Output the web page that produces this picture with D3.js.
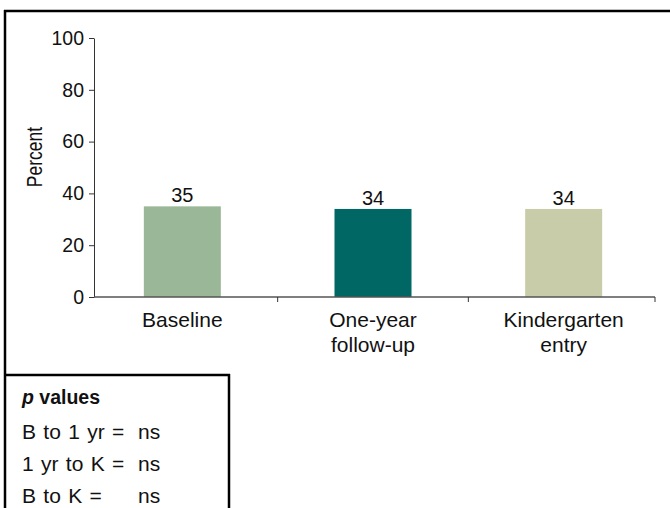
<!DOCTYPE html>
<html>
<head>
<meta charset="utf-8">
<script src="https://cdn.jsdelivr.net/npm/d3@7"></script>
<style>
  html, body { margin: 0; padding: 0; background: #fff; }
  svg { display: block; font-family: "Liberation Sans", Arial, sans-serif; }
</style>
</head>
<body>
<svg id="chart" width="670" height="508"></svg>
<script>
const categories = [["Baseline"], ["One-year", "follow-up"], ["Kindergarten", "entry"]];
const values = [35, 34, 34];
const barColors = ["#9ab797", "#006764", "#c9cca8"];
const yTicks = [0, 20, 40, 60, 80, 100];
const yLabel = "Percent";
const pTitle = ["p", " values"];
const pLabels = ["B to 1 yr =", "1 yr to K =", "B to K ="];
const pValues = ["ns", "ns", "ns"];

const svg = d3.select("#chart");
const W = 670, H = 508;

// outer frame (top and left)
svg.append("line").attr("x1", 4).attr("x2", W).attr("y1", 11).attr("y2", 11)
  .attr("stroke", "#000").attr("stroke-width", 2.5);
svg.append("line").attr("x1", 5).attr("x2", 5).attr("y1", 10).attr("y2", H)
  .attr("stroke", "#000").attr("stroke-width", 2.5);

const x = d3.scaleBand().domain(d3.range(categories.length)).range([87, 659]);
const y = d3.scaleLinear().domain([0, 100]).range([297, 38]);
const barW = 77;
const axisX0 = 94, axisX1 = 655;

// bars
svg.selectAll("rect.bar").data(values).enter().append("rect")
  .attr("class", "bar")
  .attr("x", (d, i) => x(i) + x.bandwidth() / 2 - barW / 2)
  .attr("width", barW)
  .attr("y", d => y(d))
  .attr("height", d => y(0) - y(d))
  .attr("fill", (d, i) => barColors[i]);

// value labels
svg.selectAll("text.val").data(values).enter().append("text")
  .attr("x", (d, i) => x(i) + x.bandwidth() / 2)
  .attr("y", d => y(d) - 4)
  .attr("text-anchor", "middle")
  .attr("font-size", 20)
  .attr("fill", "#111")
  .text(d => d);

// y axis
const yAxis = d3.axisLeft(y).tickValues(yTicks).tickSize(5).tickPadding(5).tickSizeOuter(0);
const gy = svg.append("g").attr("transform", `translate(${axisX0},0)`).call(yAxis);
gy.select(".domain").attr("stroke", "#333");
gy.selectAll(".tick line").attr("stroke", "#333");
gy.selectAll(".tick text").attr("font-size", 19.5).attr("fill", "#111")
  .attr("font-family", "Liberation Sans, Arial, sans-serif");

// x axis
svg.append("line").attr("x1", axisX0).attr("x2", axisX1).attr("y1", y(0)).attr("y2", y(0))
  .attr("stroke", "#555").attr("stroke-width", 1.5);
const edges = [x(1), x(2), axisX1];
svg.selectAll("line.xt").data(edges).enter().append("line")
  .attr("x1", d => d).attr("x2", d => d)
  .attr("y1", y(0)).attr("y2", y(0) + 5)
  .attr("stroke", "#333");

// category labels
const cl = svg.selectAll("text.cat").data(categories).enter().append("text")
  .attr("text-anchor", "middle")
  .attr("font-size", 21)
  .attr("fill", "#111");
cl.each(function(lines, i) {
  const t = d3.select(this);
  lines.forEach((s, j) => {
    t.append("tspan").attr("x", x(i) + x.bandwidth() / 2).attr("y", 327 + j * 25).text(s);
  });
});

// y label
svg.append("text")
  .attr("transform", "translate(42,157) rotate(-90) scale(1,1.25)")
  .attr("text-anchor", "middle")
  .attr("font-size", 17.5)
  .attr("fill", "#111")
  .text(yLabel);

// p values box
svg.append("line").attr("x1", 4).attr("x2", 230).attr("y1", 375).attr("y2", 375)
  .attr("stroke", "#000").attr("stroke-width", 2.5);
svg.append("line").attr("x1", 229).attr("x2", 229).attr("y1", 374).attr("y2", H)
  .attr("stroke", "#000").attr("stroke-width", 2.5);

const pt = svg.append("text").attr("x", 22).attr("y", 404)
  .attr("font-size", 19.5).attr("font-weight", "bold").attr("fill", "#111");
pt.append("tspan").attr("font-style", "italic").text(pTitle[0]);
pt.append("tspan").text(pTitle[1]);

const rowY = [439, 471, 503];
svg.selectAll("text.pl").data(pLabels).enter().append("text")
  .attr("x", 22).attr("y", (d, i) => rowY[i])
  .attr("font-size", 21).attr("word-spacing", 1.5).attr("fill", "#111")
  .text(d => d);
svg.selectAll("text.pv").data(pValues).enter().append("text")
  .attr("x", 138).attr("y", (d, i) => rowY[i])
  .attr("font-size", 21).attr("fill", "#111")
  .text(d => d);
</script>
</body>
</html>
